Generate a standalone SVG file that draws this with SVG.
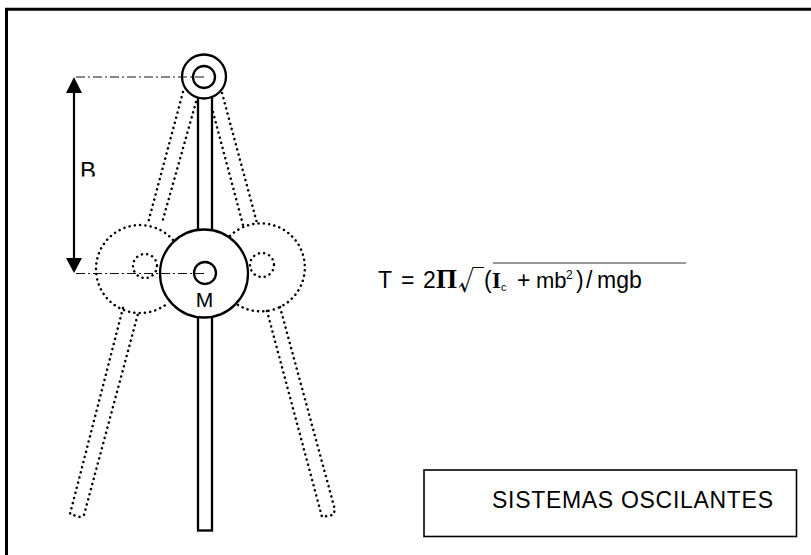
<svg xmlns="http://www.w3.org/2000/svg" width="811" height="555" viewBox="0 0 811 555">
<style>
.s{fill:#fff;stroke:#000;stroke-width:2.300}
.d{fill:none;stroke:#000;stroke-width:2.500;stroke-dasharray:0.1 5.200;stroke-linecap:round}
.dd{fill:none;stroke:#111;stroke-width:1;stroke-dasharray:9 3 2 3}
.t{font-family:"Liberation Sans",Arial,sans-serif;font-size:23px;fill:#000}
.k{font-family:"Noto Sans CJK JP","Liberation Sans",sans-serif;font-size:26px;fill:#000}
.m{font-family:"Liberation Serif",serif;font-size:23px;font-weight:bold;fill:#000}
</style>
<rect width="811" height="555" fill="#fff"/>
<path id="frame" d="M6.500 555V9.300H811" fill="none" stroke="#000" stroke-width="3"/>
<g id="ghost-left">
<path class="d" d="M183 92L148 223M196 102L162 223M123 308L70 514L80 517L84 515L139 310"/>
<path class="d" d="M173 240A44 44 0 1 0 168 303"/>
<circle class="d" cx="145" cy="266" r="12"/>
</g>
<g id="ghost-right">
<path class="d" d="M213 112L243 225M222 93L257 223M267 311L322 517L333 515L335 510L280 307"/>
<path class="d" d="M230 236A44 44 0 1 1 238 305"/>
<circle class="d" cx="262" cy="265" r="12"/>
</g>
<g id="rod"><rect class="s" x="198" y="96" width="14" height="434.500"/></g>
<g id="pivot">
<circle class="s" cx="204" cy="76.500" r="22"/>
<circle class="s" cx="204" cy="77" r="11"/>
</g>
<g id="mass">
<circle class="s" cx="204" cy="273.500" r="44"/>
<circle class="s" cx="205" cy="273" r="11"/>
<text class="t" x="204.500" y="307" text-anchor="middle" style="font-size:21px">M</text>
</g>
<g id="connectors">
<path class="dd" d="M76 77H206M76 273.500H206"/>
<path d="M74 90V260" stroke="#000" stroke-width="2.200" fill="none"/>
<path d="M74 77L82 93H66Z M74 273L82 258H66Z" fill="#000"/>
</g>
<g id="label-b"><svg x="75" y="150" width="30" height="26.500" viewBox="75 150 30 26.500"><text class="t" x="80" y="179" style="font-size:24px">B</text></svg></g>
<g id="formula">
<path d="M493 263H686" stroke="#333" stroke-width="1" fill="none"/>
<text class="t" x="378" y="288">T</text>
<text class="t" x="401" y="288">=</text>
<text class="t" x="423" y="288">2</text>
<text class="m" x="436" y="288" style="font-size:27px">Π</text>
<text class="k" x="458" y="290">√</text>
<text class="t" x="484" y="288">(</text>
<text class="m" x="492" y="288">I</text>
<text class="t" x="501" y="291" style="font-size:11px">c</text>
<text class="t" x="517" y="288">+</text>
<text class="t" x="536" y="288" style="font-size:22px">mb</text>
<text class="t" x="566" y="279" style="font-size:12px">2</text>
<text class="t" x="576" y="288">)</text>
<text class="t" x="586" y="288">/</text>
<text class="t" x="597" y="288">mgb</text>
</g>
<g id="title">
<rect x="424" y="470" width="372.500" height="66.500" fill="#fff" stroke="#000" stroke-width="1.600"/>
<text class="t" x="492" y="508" style="letter-spacing:.7px">SISTEMAS OSCILANTES</text>
</g>
</svg>
